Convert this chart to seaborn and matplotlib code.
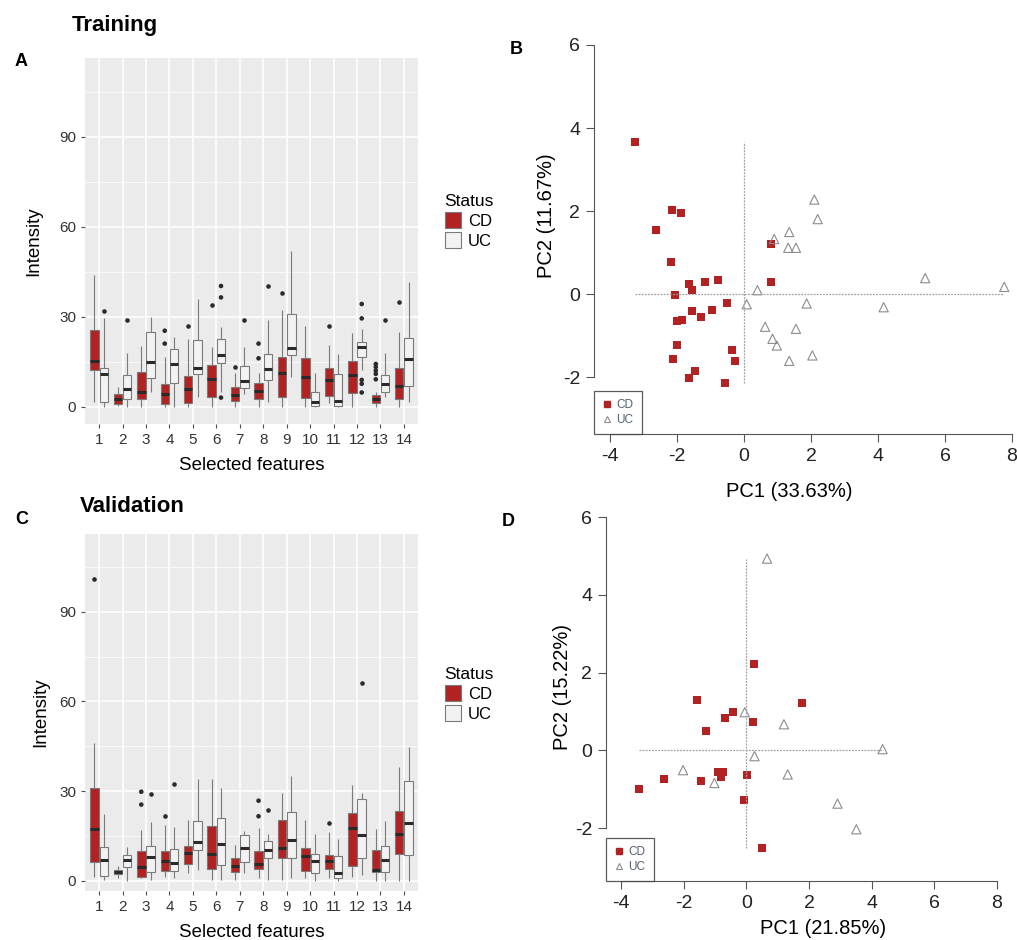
import numpy as np
import pandas as pd
import matplotlib
matplotlib.use("Agg")
import matplotlib.pyplot as plt
import seaborn as sns
from matplotlib.lines import Line2D

plt.rcParams["font.family"] = ["Liberation Sans", "DejaVu Sans"]
plt.rcParams["axes.unicode_minus"] = False

features = [str(i) for i in range(1, 15)]
status_order = ["CD", "UC"]
cd_red = "#B22222"
uc_fill = "#F2F2F2"
uc_grey = "#8C8C8C"

# box summaries: [lower whisker, q1, median, q3, upper whisker]
train_cd = [
    [1.7, 12.2, 15.3, 25.6, 43.9], [0.2, 0.9, 2.6, 4.1, 6.7], [0, 2.4, 4.8, 11.7, 20.2],
    [0, 0.9, 4.2, 7.4, 16.4], [0, 1.1, 6.0, 10.2, 22.4], [0, 3.1, 9.1, 13.9, 20.0],
    [0, 2.0, 4.0, 6.6, 11.1], [0, 2.6, 5.2, 7.8, 11.1], [0, 3.2, 11.3, 16.4, 32.2],
    [0, 3.0, 10.0, 16.1, 26.9], [1.1, 3.6, 8.9, 12.8, 20.6], [0, 4.4, 10.6, 15.3, 24.7],
    [0, 1.1, 2.6, 3.9, 5.0], [0, 2.6, 7.0, 12.8, 25.0],
]
train_uc = [
    [0, 1.4, 10.8, 13.0, 29.4], [0, 2.7, 5.8, 10.4, 18.0], [5.0, 9.4, 15.0, 25.0, 29.8],
    [0, 8.0, 14.1, 19.1, 23.3], [3.3, 10.9, 12.8, 22.2, 36.0], [5.0, 14.7, 17.1, 22.7, 26.4],
    [4.2, 6.1, 8.7, 13.6, 19.8], [1.4, 8.9, 12.4, 17.4, 28.9], [10.0, 17.1, 19.4, 30.9, 51.7],
    [0, 0.2, 1.4, 4.8, 11.1], [0, 0.3, 1.9, 10.8, 17.6], [12.2, 16.4, 20.0, 21.7, 25.8],
    [3.3, 5.0, 7.6, 10.6, 17.8], [1.7, 7.0, 16.0, 22.8, 41.7],
]
train_cd_out = {4: [25.3, 21.0], 5: [27.0], 6: [33.9], 7: [13.3], 8: [21.0, 16.1], 9: [37.8],
                11: [27.0], 13: [14.2, 13.2, 12.0, 10.9, 9.1], 14: [34.8]}
train_uc_out = {1: [32.0], 2: [28.9], 6: [40.2, 36.4, 3.0], 7: [28.9], 8: [40.3],
                12: [34.2, 29.4, 8.9, 7.6, 4.7], 13: [28.9]}

valid_cd = [
    [1.3, 6.4, 17.2, 30.9, 46.0], [0.8, 2.2, 2.9, 3.6, 4.9], [0.8, 1.3, 4.7, 10.0, 16.9],
    [1.3, 3.2, 6.6, 10.0, 18.6], [2.5, 5.6, 9.4, 11.6, 20.5], [0.2, 3.8, 9.1, 18.3, 34.0],
    [0.2, 3.0, 4.9, 7.5, 11.9], [0.8, 4.1, 5.5, 10.0, 17.8], [0.2, 7.7, 11.0, 20.5, 29.4],
    [0.8, 3.2, 8.4, 11.1, 20.3], [0.8, 3.9, 6.6, 8.8, 16.2], [1.3, 5.0, 17.7, 22.7, 32.0],
    [0, 3.0, 3.6, 10.3, 17.5], [0, 8.9, 15.8, 23.3, 38.1],
]
valid_uc = [
    [0.2, 1.7, 7.1, 11.4, 22.2], [0, 4.7, 6.9, 8.6, 11.4], [0.2, 2.9, 8.0, 11.6, 19.7],
    [0.8, 3.2, 6.1, 10.8, 18.1], [3.6, 10.3, 13.0, 20.1, 34.2], [0.2, 5.2, 12.2, 21.1, 30.9],
    [2.5, 6.4, 11.1, 15.3, 16.7], [0.2, 7.5, 10.3, 13.4, 15.6], [0.8, 7.7, 13.8, 23.1, 35.0],
    [0, 2.5, 6.6, 9.1, 15.6], [0, 0.8, 2.5, 8.4, 13.9], [1.9, 7.7, 15.3, 27.5, 29.4],
    [0, 3.0, 7.1, 11.7, 20.1], [0, 8.5, 19.4, 33.4, 44.7],
]
valid_cd_out = {1: [101.0], 3: [29.8, 25.5], 4: [21.6], 8: [26.8, 21.6], 11: [19.5]}
valid_uc_out = {3: [29.2], 4: [32.3], 8: [23.6], 12: [66.0]}

# PCA scores
pcaB_cd_x = [-3.25, -2.14, -1.89, -2.64, -2.19, -1.63, -1.55, -2.05, -1.16, -0.78, 0.80, 0.81, -1.55,
             -0.95, -0.51, -1.28, -2.00, -1.85, -1.99, -2.13, -0.37, -0.28, -1.47, -1.63, -0.58]
pcaB_cd_y = [3.67, 2.04, 1.96, 1.56, 0.77, 0.24, 0.10, -0.02, 0.29, 0.34, 1.22, 0.30, -0.40,
             -0.38, -0.22, -0.55, -0.64, -0.61, -1.22, -1.55, -1.35, -1.61, -1.84, -2.01, -2.13]
pcaB_uc_x = [2.10, 2.20, 1.35, 0.90, 1.32, 1.55, 0.40, 0.08, 1.87, 5.41, 7.77, 4.17, 0.63, 1.55,
             0.85, 0.98, 1.35, 2.04]
pcaB_uc_y = [2.28, 1.81, 1.50, 1.33, 1.12, 1.12, 0.10, -0.24, -0.22, 0.39, 0.18, -0.31, -0.78, -0.83,
             -1.07, -1.23, -1.60, -1.47]

pcaD_cd_x = [0.26, -1.57, 1.78, -0.44, -0.67, 0.20, -1.29, -2.62, -3.43, -1.45, -0.91, -0.74, -0.81,
             0.03, -0.06, 0.49]
pcaD_cd_y = [2.21, 1.29, 1.21, 0.99, 0.83, 0.72, 0.50, -0.73, -0.99, -0.79, -0.56, -0.56, -0.69,
             -0.64, -1.27, -2.50]
pcaD_uc_x = [0.66, -0.05, 1.20, 4.35, 0.26, -2.02, -1.02, 1.32, 2.91, 3.51]
pcaD_uc_y = [4.93, 0.98, 0.67, 0.03, -0.15, -0.51, -0.84, -0.62, -1.37, -2.03]


def box_frame(cd, uc):
    rows = []
    for status, stats in (("CD", cd), ("UC", uc)):
        for feat, five in zip(features, stats):
            for v in five:
                rows.append((feat, status, v))
    return pd.DataFrame(rows, columns=["Feature", "Status", "Intensity"])


def outlier_frame(cd_out, uc_out):
    rows = []
    for status, outs in (("CD", cd_out), ("UC", uc_out)):
        for feat, vals in outs.items():
            for v in vals:
                rows.append((str(feat), status, v))
    return pd.DataFrame(rows, columns=["Feature", "Status", "Intensity"])


def draw_boxes(ax, cd, uc, cd_out, uc_out, ylim, ylabel_pad):
    ax.set_facecolor("#EBEBEB")
    for s in ax.spines.values():
        s.set_visible(False)
    sns.boxplot(data=box_frame(cd, uc), x="Feature", y="Intensity", hue="Status",
                order=features, hue_order=status_order, saturation=1,
                palette={"CD": cd_red, "UC": uc_fill}, whis=(0, 100), showfliers=False,
                showcaps=False, width=0.8, gap=0.1, linecolor="#7A7A7A", linewidth=0.8,
                medianprops=dict(color="#2A2A2A", linewidth=2.2), ax=ax)
    sns.stripplot(data=outlier_frame(cd_out, uc_out), x="Feature", y="Intensity", hue="Status",
                  order=features, hue_order=status_order, dodge=True, jitter=False,
                  palette={"CD": "#2A2A2A", "UC": "#2A2A2A"}, size=3.3, linewidth=0,
                  legend=False, ax=ax)
    ax.set_xlim(-0.6, 13.6)
    ax.set_ylim(*ylim)
    ax.set_yticks([0, 30, 60, 90])
    ax.set_yticks([15, 45, 75, 105], minor=True)
    ax.grid(which="major", color="white", linewidth=1.1)
    ax.grid(which="minor", axis="y", color="white", linewidth=0.5)
    ax.set_axisbelow(True)
    ax.tick_params(which="major", length=3, color="#4D4D4D", labelsize=11, labelcolor="#333333")
    ax.tick_params(which="minor", length=0)
    ax.set_xlabel("Selected features", fontsize=13.5, labelpad=7)
    ax.set_ylabel("Intensity", fontsize=13.5, labelpad=ylabel_pad)
    sns.move_legend(ax, "upper left", bbox_to_anchor=(1.035, 0.67), frameon=False,
                    title="Status", fontsize=12, title_fontsize=12.5,
                    handlelength=1.0, handleheight=1.1, labelspacing=0.2, handletextpad=0.4)
    ax.get_legend()._legend_box.align = "left"


def draw_pca(ax, cd_x, cd_y, uc_x, uc_y, xlabel, ylabel, xlab_pos, ylab_pos):
    sns.scatterplot(x=cd_x, y=cd_y, marker="s", color=cd_red, s=26, linewidth=0, ax=ax)
    sns.scatterplot(x=uc_x, y=uc_y, marker="^", color=uc_grey, facecolor="none",
                    edgecolor=uc_grey, s=44, linewidth=0.8, ax=ax)
    all_x = np.r_[cd_x, uc_x]
    all_y = np.r_[cd_y, uc_y]
    ax.hlines(0, all_x.min(), all_x.max(), colors="#A0A0A0", linestyles=(0, (1.5, 1.0)),
              linewidth=0.9, zorder=1)
    ax.vlines(0, all_y.min(), all_y.max(), colors="#A0A0A0", linestyles=(0, (1.5, 1.0)),
              linewidth=0.9, zorder=1)
    ax.set_xlim(-4.48, 8.48)
    ax.set_ylim(-3.36, 6.36)
    ax.set_xticks(range(-4, 9, 2))
    ax.set_yticks(range(-2, 7, 2))
    ax.spines[["top", "right"]].set_visible(False)
    ax.spines["left"].set_bounds(-2, 6)
    ax.spines["bottom"].set_bounds(-4, 8)
    for s in ("left", "bottom"):
        ax.spines[s].set_color("#555555")
    ax.tick_params(length=6, color="#555555", labelsize=14, labelcolor="#222222", pad=4)
    ax.set_facecolor("white")
    ax.set_xlabel(xlabel, fontsize=14.5)
    ax.set_ylabel(ylabel, fontsize=14.5)
    ax.xaxis.set_label_coords(*xlab_pos)
    ax.yaxis.set_label_coords(*ylab_pos)
    handles = [Line2D([], [], marker="s", color=cd_red, ls="none", ms=4),
               Line2D([], [], marker="^", mfc="none", mec=uc_grey, ls="none", ms=5, mew=0.8)]
    leg = ax.legend(handles, ["CD", "UC"], loc="lower left", bbox_to_anchor=(0, 0),
                    borderaxespad=0, frameon=True, fancybox=False, fontsize=8.5,
                    handlelength=0.8, handletextpad=0.4, borderpad=0.7, labelspacing=0.2,
                    labelcolor="#556070")
    leg.get_frame().set_edgecolor("#333333")
    leg.get_frame().set_linewidth(0.9)


W, H = 1017, 940
fig = plt.figure(figsize=(W / 100, H / 100), dpi=100)


def px_axes(left, top, right, bottom):
    return fig.add_axes([left / W, 1 - bottom / H, (right - left) / W, (bottom - top) / H])


axA = px_axes(85, 58, 418, 424)
axC = px_axes(85, 534, 418, 891)
axB = px_axes(594, 30, 1028, 434)
axD = px_axes(606, 503, 1012, 881)

draw_boxes(axA, train_cd, train_uc, train_cd_out, train_uc_out, (-5.8, 116.2), 12)
draw_boxes(axC, valid_cd, valid_uc, valid_cd_out, valid_uc_out, (-3.4, 116.0), 7)
draw_pca(axB, pcaB_cd_x, pcaB_cd_y, pcaB_uc_x, pcaB_uc_y, "PC1 (33.63%)", "PC2 (11.67%)",
         (0.45, -0.12), (-0.088, 0.54))
draw_pca(axD, pcaD_cd_x, pcaD_cd_y, pcaD_uc_x, pcaD_uc_y, "PC1 (21.85%)", "PC2 (15.22%)",
         (0.535, -0.10), (-0.084, 0.513))

fig.text(72 / W, 1 - 25 / H, "Training", fontsize=16, fontweight="bold", va="center", ha="left")
fig.text(80 / W, 1 - 506 / H, "Validation", fontsize=16, fontweight="bold", va="center", ha="left")
fig.text(15 / W, 1 - 62 / H, "A", fontsize=13, fontweight="bold", va="center", ha="left")
fig.text(15 / W, 1 - 520 / H, "C", fontsize=13, fontweight="bold", va="center", ha="left")
fig.text(510 / W, 1 - 50 / H, "B", fontsize=13, fontweight="bold", va="center", ha="left")
fig.text(502 / W, 1 - 522 / H, "D", fontsize=13, fontweight="bold", va="center", ha="left")

fig.savefig("out.png", dpi=100)
